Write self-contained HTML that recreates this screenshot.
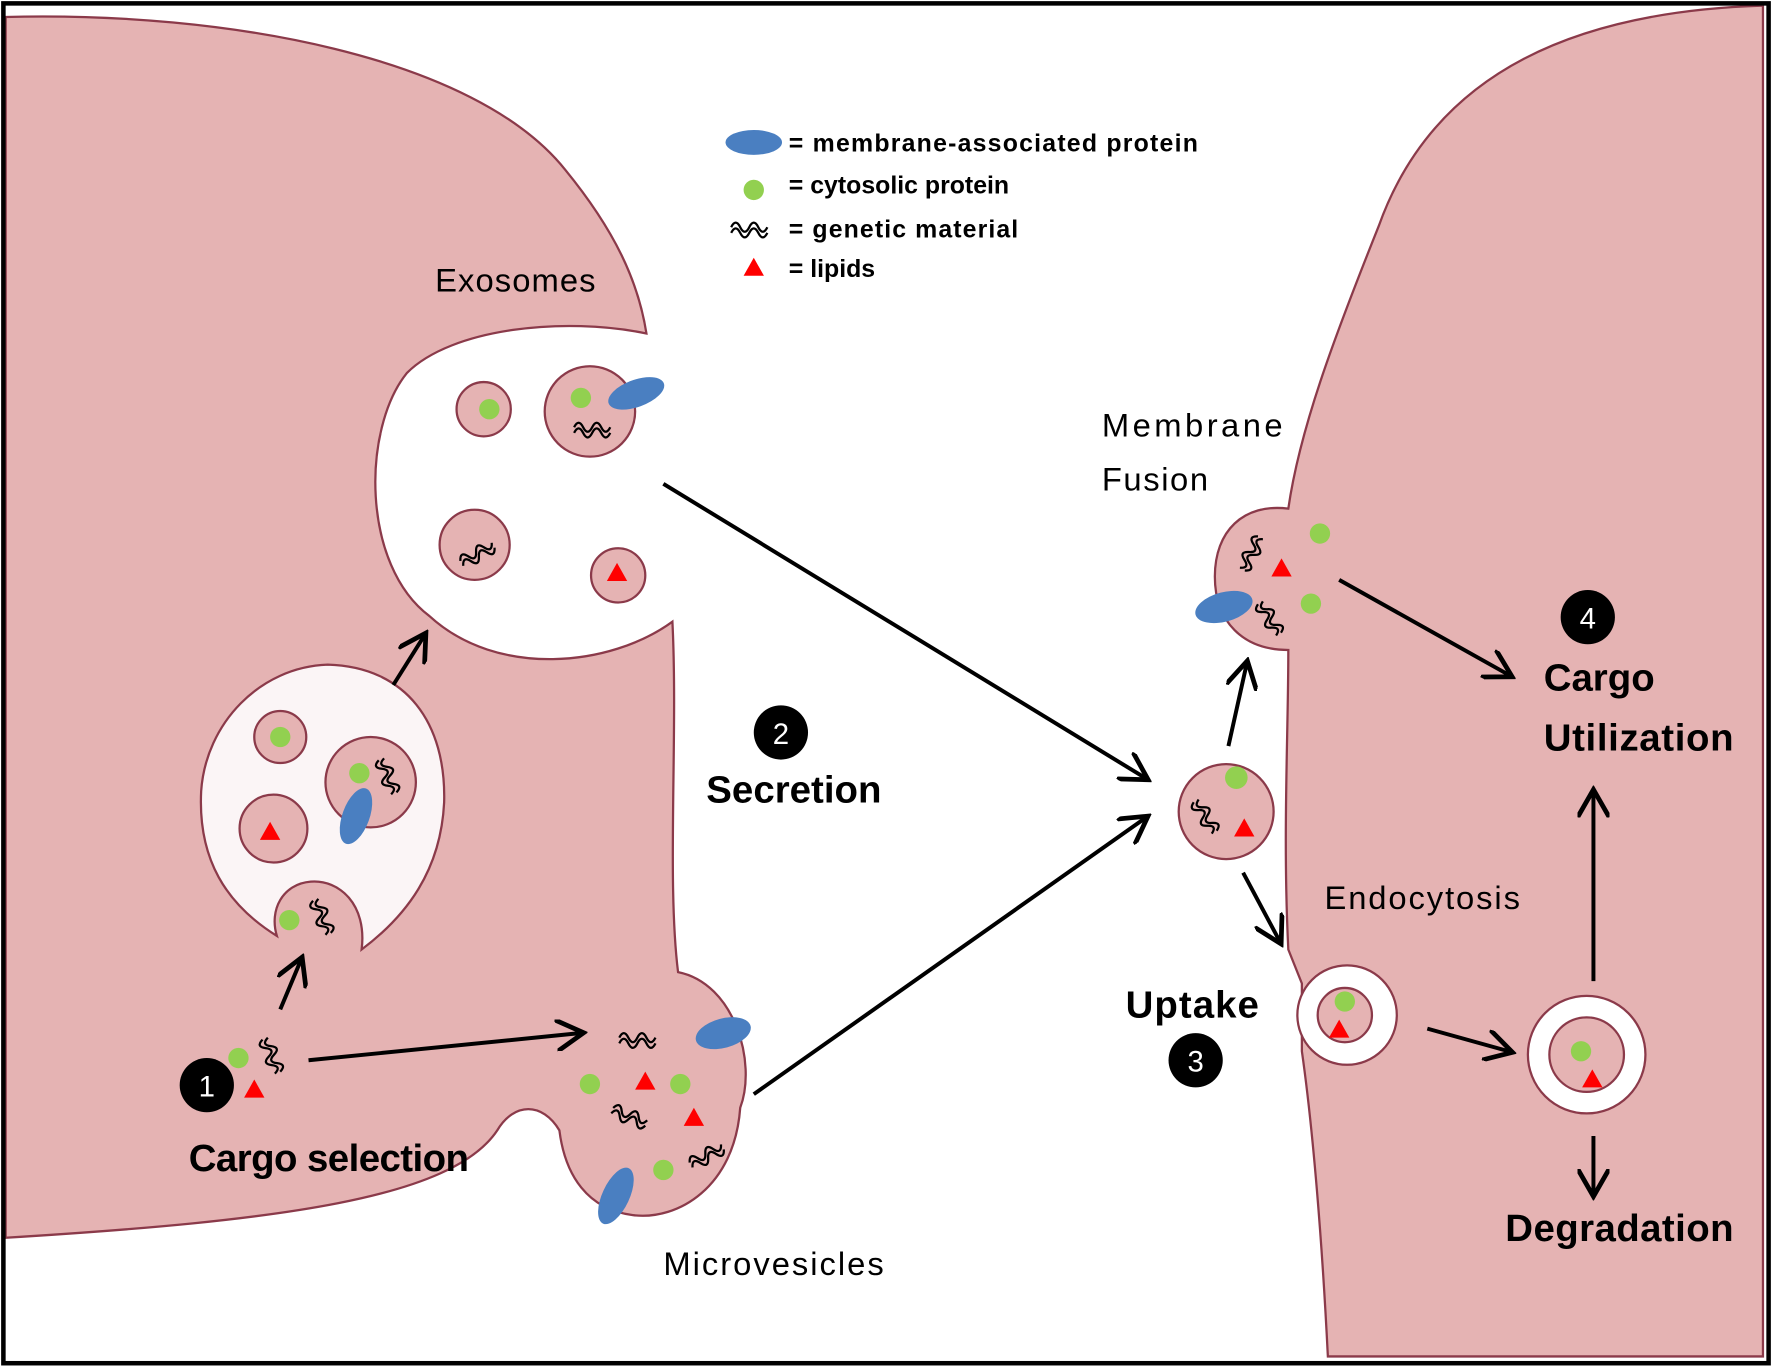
<!DOCTYPE html>
<html><head><meta charset="utf-8"><style>
html,body{margin:0;padding:0;background:#fff;}
svg{display:block;}
text{font-family:"Liberation Sans",sans-serif;}
</style></head><body>
<svg width="1772" height="1370" viewBox="0 0 1568 1212" preserveAspectRatio="none" xmlns="http://www.w3.org/2000/svg">
<defs>
<marker id="ah" markerWidth="8" markerHeight="8" refX="6" refY="4" orient="auto" markerUnits="strokeWidth">
<path d="M0,0 L7,4 L0,8" fill="none" stroke="#000" stroke-width="1.2"/>
</marker>
<g id="rna"><path d="M0,0 q4,-8 8,0 t8,0 t8,0 t8,0" fill="none" stroke="#000" stroke-width="2"/><path d="M0,5 q4,-8 8,0 t8,0 t8,0 t8,0" fill="none" stroke="#000" stroke-width="2"/></g>
<g id="rnav"><path d="M0,0 q-8,4 0,8 t0,8 t0,8 t0,8" fill="none" stroke="#000" stroke-width="2"/><path d="M5,0 q-8,4 0,8 t0,8 t0,8 t0,8" fill="none" stroke="#000" stroke-width="2"/></g>
</defs>
<rect x="0" y="0" width="1568" height="1212" fill="#fff"/>
<!-- left cell -->
<path d="M5,15 C200,10 420,50 500,150 C545,205 565,250 572,295 C500,280 400,290 360,330 C320,380 320,500 380,545 C440,600 540,590 595,550 C600,650 590,780 600,860 C650,870 670,940 655,980 C650,1050 600,1080 560,1075 C520,1070 500,1040 495,1000 C480,975 455,975 440,1000 C400,1060 250,1080 5,1095 Z" fill="#e5b3b3" stroke="#8b3a4a" stroke-width="2"/>
<!-- MVB -->
<path d="M245,828 C200,800 175,760 178,700 C182,640 230,590 290,588 C360,590 395,640 393,710 C390,770 360,810 320,840 C325,800 300,778 275,780 C250,782 238,805 245,828 Z" fill="#fbf5f6" stroke="#8b3a4a" stroke-width="2"/>
<!-- right cell -->
<path d="M1560,5 C1400,10 1270,60 1220,200 C1180,300 1150,380 1140,450 C1100,445 1075,470 1075,510 C1075,550 1100,575 1140,575 C1140,650 1135,740 1140,840 L1152,870 L1152,930 C1162,1000 1170,1100 1175,1200 L1560,1200 Z" fill="#e5b3b3" stroke="#8b3a4a" stroke-width="2"/>
<!-- endocytosis notch -->
<circle cx="1192" cy="898" r="44" fill="#fff" stroke="#8b3a4a" stroke-width="2"/>
<circle cx="1190" cy="898" r="24" fill="#e5b3b3" stroke="#8b3a4a" stroke-width="2"/>
<!-- endosome -->
<circle cx="1404" cy="933" r="52" fill="#fff" stroke="#8b3a4a" stroke-width="2"/>
<circle cx="1404" cy="933" r="33" fill="#e5b3b3" stroke="#8b3a4a" stroke-width="2"/>
<circle cx="1399" cy="930" r="9" fill="#92d050"/>
<path d="M1409,946 l-9,16 h18z" fill="#f00"/>
<circle cx="1190" cy="886" r="9" fill="#92d050"/>
<path d="M1185,902 l-9,16 h18z" fill="#f00"/>
<!-- exosomes in cavity -->
<circle cx="428" cy="362" r="24" fill="#e5b3b3" stroke="#8b3a4a" stroke-width="2"/>
<circle cx="433" cy="362" r="9" fill="#92d050"/>
<circle cx="522" cy="364" r="40" fill="#e5b3b3" stroke="#8b3a4a" stroke-width="2"/>
<circle cx="514" cy="352" r="9" fill="#92d050"/>
<use href="#rna" x="508" y="378"/>
<ellipse cx="563" cy="348" rx="26" ry="12" transform="rotate(-20 563 348)" fill="#4a7fc1"/>
<circle cx="420" cy="482" r="31" fill="#e5b3b3" stroke="#8b3a4a" stroke-width="2"/>
<use href="#rna" x="402" y="488" transform="rotate(-30 420 482)"/>
<circle cx="547" cy="509" r="24" fill="#e5b3b3" stroke="#8b3a4a" stroke-width="2"/>
<path d="M546,498 l-9,16 h18z" fill="#f00"/>
<!-- MVB contents -->
<circle cx="248" cy="652" r="23" fill="#e5b3b3" stroke="#8b3a4a" stroke-width="2"/>
<circle cx="248" cy="652" r="9" fill="#92d050"/>
<circle cx="242" cy="733" r="30" fill="#e5b3b3" stroke="#8b3a4a" stroke-width="2"/>
<path d="M239,727 l-9,16 h18z" fill="#f00"/>
<circle cx="328" cy="692" r="40" fill="#e5b3b3" stroke="#8b3a4a" stroke-width="2"/>
<circle cx="318" cy="684" r="9" fill="#92d050"/>
<use href="#rnav" x="340" y="670" transform="rotate(-20 345 685)"/>
<ellipse cx="315" cy="722" rx="12" ry="26" transform="rotate(20 315 722)" fill="#4a7fc1"/>
<circle cx="256" cy="814" r="9" fill="#92d050"/>
<use href="#rnav" x="282" y="795" transform="rotate(-20 285 810)"/>
<!-- cargo selection -->
<circle cx="211" cy="936" r="9" fill="#92d050"/>
<path d="M225,955 l-9,16 h18z" fill="#f00"/>
<use href="#rnav" x="238" y="918" transform="rotate(-20 240 935)"/>
<!-- microvesicle contents -->
<use href="#rna" x="548" y="918"/>
<ellipse cx="640" cy="914" rx="25" ry="13" transform="rotate(-15 640 914)" fill="#4a7fc1"/>
<circle cx="522" cy="959" r="9" fill="#92d050"/>
<path d="M571,948 l-9,16 h18z" fill="#f00"/>
<circle cx="602" cy="959" r="9" fill="#92d050"/>
<use href="#rna" x="540" y="985" transform="rotate(20 555 990)"/>
<path d="M614,980 l-9,16 h18z" fill="#f00"/>
<circle cx="587" cy="1035" r="9" fill="#92d050"/>
<use href="#rna" x="608" y="1020" transform="rotate(-30 625 1020)"/>
<ellipse cx="545" cy="1058" rx="12" ry="27" transform="rotate(25 545 1058)" fill="#4a7fc1"/>
<!-- extracellular vesicle -->
<circle cx="1085" cy="718" r="42" fill="#e5b3b3" stroke="#8b3a4a" stroke-width="2"/>
<circle cx="1094" cy="688" r="10" fill="#92d050"/>
<use href="#rnav" x="1062" y="705" transform="rotate(-30 1068 718)"/>
<path d="M1101,724 l-9,16 h18z" fill="#f00"/>
<!-- fusion contents -->
<use href="#rnav" x="1105" y="475" transform="rotate(30 1110 490)"/>
<path d="M1134,494 l-9,16 h18z" fill="#f00"/>
<circle cx="1168" cy="472" r="9" fill="#92d050"/>
<circle cx="1160" cy="534" r="9" fill="#92d050"/>
<use href="#rnav" x="1120" y="530" transform="rotate(-30 1125 545)"/>
<ellipse cx="1083" cy="537" rx="26" ry="13" transform="rotate(-15 1083 537)" fill="#4a7fc1"/>
<!-- legend -->
<ellipse cx="667" cy="126" rx="25" ry="11" fill="#4a7fc1"/>
<circle cx="667" cy="168" r="9" fill="#92d050"/>
<use href="#rna" x="647" y="201"/>
<path d="M667,228 l-9,16 h18z" fill="#f00"/>
<g font-weight="bold" font-size="22" fill="#000">
<text x="698" y="134" textLength="362">= membrane-associated protein</text>
<text x="698" y="171">= cytosolic protein</text>
<text x="698" y="210" textLength="203">= genetic material</text>
<text x="698" y="245">= lipids</text>
</g>
<!-- arrows -->
<g stroke="#000" stroke-width="3.5" fill="none" marker-end="url(#ah)">
<line x1="587" y1="428" x2="1013" y2="688"/>
<line x1="667" y1="968" x2="1013" y2="724"/>
<line x1="273" y1="938" x2="513" y2="914"/>
<line x1="248" y1="893" x2="266" y2="850"/>
<line x1="348" y1="606" x2="375" y2="563"/>
<line x1="1087" y1="660" x2="1103" y2="588"/>
<line x1="1100" y1="772" x2="1132" y2="832"/>
<line x1="1185" y1="513" x2="1335" y2="597"/>
<line x1="1263" y1="910" x2="1335" y2="930"/>
<line x1="1410" y1="868" x2="1410" y2="702"/>
<line x1="1410" y1="1005" x2="1410" y2="1055"/>
</g>
<!-- number badges -->
<g fill="#000"><circle cx="183" cy="960" r="24"/><circle cx="691" cy="648" r="24"/><circle cx="1058" cy="938" r="24"/><circle cx="1405" cy="546" r="24"/></g>
<g fill="#fff" font-size="26" text-anchor="middle"><text x="183" y="970">1</text><text x="691" y="658">2</text><text x="1058" y="948">3</text><text x="1405" y="556">4</text></g>
<!-- labels -->
<g font-size="29" fill="#000">
<text x="385" y="258" textLength="142">Exosomes</text>
<text x="975" y="386" textLength="160">Membrane</text>
<text x="975" y="434" textLength="94">Fusion</text>
<text x="1172" y="804" textLength="173">Endocytosis</text>
<text x="587" y="1128" textLength="195">Microvesicles</text>
</g>
<g font-size="34" font-weight="bold" fill="#000">
<text x="167" y="1036" textLength="248">Cargo selection</text>
<text x="625" y="710" textLength="155">Secretion</text>
<text x="996" y="900" textLength="118">Uptake</text>
<text x="1366" y="611">Cargo</text>
<text x="1366" y="664" textLength="168">Utilization</text>
<text x="1332" y="1098" textLength="202">Degradation</text>
</g>
<rect x="3" y="3" width="1562" height="1203" fill="none" stroke="#000" stroke-width="4"/>
</svg>
</body></html>
